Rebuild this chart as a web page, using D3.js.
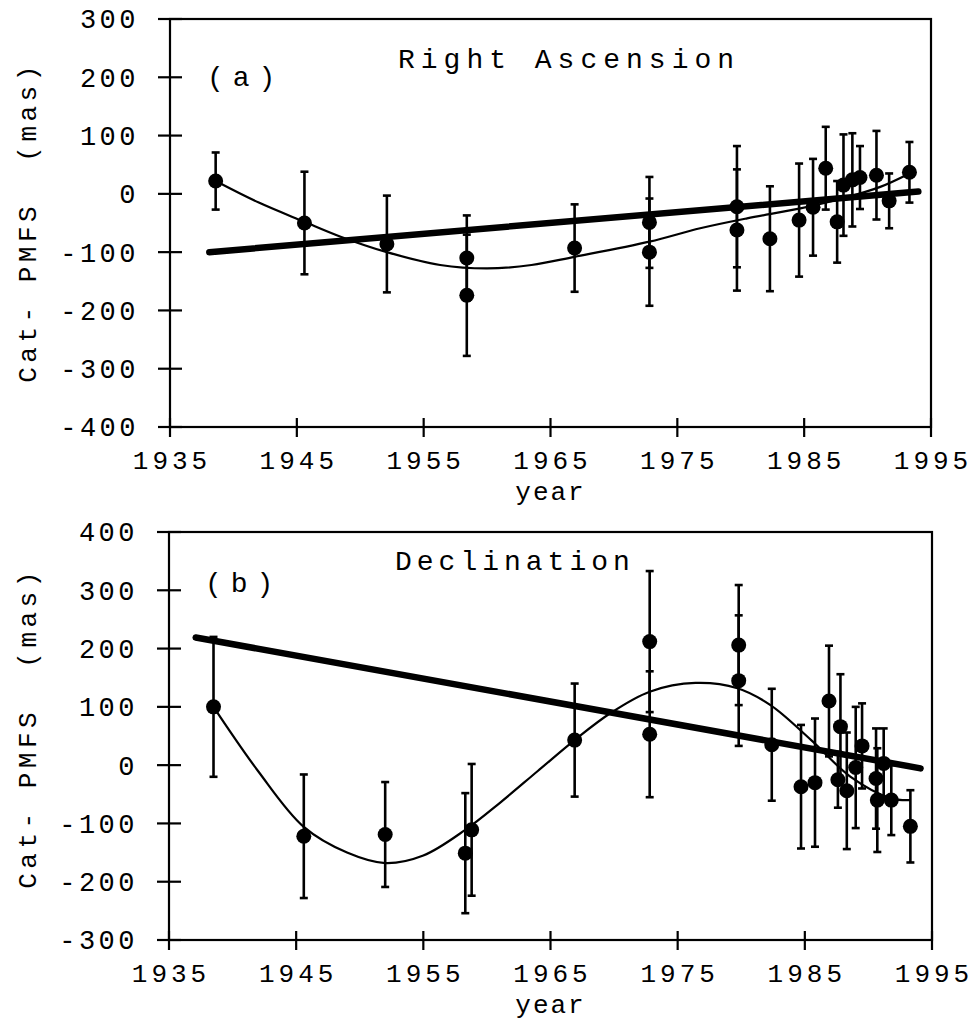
<!DOCTYPE html>
<html><head><meta charset="utf-8">
<script src="https://cdn.jsdelivr.net/npm/d3@7"></script>
<style>
body{margin:0;background:#fff;}
svg{display:block;}
text{font-family:"Liberation Mono","Courier New",monospace;fill:#000;}
</style></head>
<body><svg id="c" width="978" height="1021"></svg>
<script>
// ---- Panel (a): Right Ascension ----
const raYears  = [1938.6,1945.6,1952.1,1958.4,1958.4,1966.9,1972.8,1972.8,1979.7,1979.7,1982.3,1984.6,1985.7,1986.7,1987.6,1988.1,1988.8,1989.4,1990.7,1991.7,1993.3];
const raValues = [22,-50,-86,-110,-174,-93,-49,-100,-22,-62,-77,-45,-23,44,-48,15,24,28,32,-12,37];
const raErrors = [49,88,83,73,104,75,78,92,104,104,90,97,83,71,70,87,80,54,76,47,52];
const raFitYears  = [1938.6,1942,1945.6,1948.4,1952.1,1956.3,1960,1963.5,1966.9,1972.8,1976.8,1980.5,1984.7,1988,1991,1993.3];
const raFitValues = [22,-15,-48,-73,-100,-122,-128,-122,-108,-82,-59,-42,-25,-8,12,35];
const raTrendYears  = [1938.1,1994.0];
const raTrendValues = [-100,4];
const raYTicks = [-400,-300,-200,-100,0,100,200,300];

// ---- Panel (b): Declination ----
const decYears  = [1938.5,1945.6,1952.0,1958.3,1958.8,1966.9,1972.8,1972.8,1979.8,1979.8,1982.4,1984.7,1985.8,1986.9,1987.6,1987.8,1988.3,1989.0,1989.5,1990.6,1990.7,1991.2,1991.8,1993.3];
const decValues = [100,-122,-119,-151,-111,43,212,53,206,145,35,-37,-30,110,-25,66,-44,-4,33,-23,-60,3,-60,-105];
const decErrors = [120,106,90,103,113,97,121,108,103,112,96,106,110,95,48,90,100,104,73,86,89,60,60,62];
const decFitYears  = [1938.5,1942,1945.6,1949,1952,1955,1958.3,1961,1964,1966.9,1969.7,1972.8,1976.4,1979.7,1982.3,1985.5,1988.6,1991.8,1993.3];
const decFitValues = [100,-10,-106,-150,-168,-155,-111,-65,-10,43,89,126,141,132,103,43,-20,-57,-60];
const decTrendYears  = [1937.1,1994.1];
const decTrendValues = [219,-5.5];
const decYTicks = [-300,-200,-100,0,100,200,300,400];

const xTicks = [1935,1945,1955,1965,1975,1985,1995];

const svg = d3.select("#c");

function panel(o){
  const x = d3.scaleLinear().domain([1935,1995]).range([o.left,o.right]);
  const y = d3.scaleLinear().domain(o.yDomain).range([o.bottom,o.top]);
  const g = svg.append("g");
  // frame
  g.append("rect").attr("x",o.left).attr("y",o.top).attr("width",o.right-o.left).attr("height",o.bottom-o.top)
   .attr("fill","none").attr("stroke","#000").attr("stroke-width",2.2);
  // y ticks (crossing)
  g.selectAll(".yt").data(o.yTicks).join("line")
   .attr("x1",o.left-12).attr("x2",o.left+12).attr("y1",d=>y(d)).attr("y2",d=>y(d))
   .attr("stroke","#000").attr("stroke-width",2.2);
  g.selectAll(".yl").data(o.yTicks).join("text")
   .attr("x",o.left-31).attr("y",d=>y(d)).attr("dy","0.35em").attr("text-anchor","end")
   .attr("font-size",27).attr("letter-spacing",3.5).text(d=>d);
  // x ticks (crossing)
  g.selectAll(".xt").data(xTicks).join("line")
   .attr("x1",d=>x(d)).attr("x2",d=>x(d)).attr("y1",o.bottom-9).attr("y2",o.bottom+10)
   .attr("stroke","#000").attr("stroke-width",2.2);
  g.selectAll(".xl").data(xTicks).join("text")
   .attr("x",d=>x(d)+2).attr("y",o.bottom+42).attr("text-anchor","middle")
   .attr("font-size",26).attr("letter-spacing",4).text(d=>d);
  // axis titles
  g.append("text").attr("x",x(1965)).attr("y",o.bottom+73).attr("text-anchor","middle")
   .attr("font-size",26).attr("letter-spacing",2).text("year");
  g.append("text").attr("transform",`translate(36,${o.ylabelY}) rotate(-90)`).attr("text-anchor","middle")
   .attr("font-size",26).attr("letter-spacing",4.5).attr("xml:space","preserve").text("Cat- PMFS  (mas)");
  // labels
  g.append("text").attr("x",o.tagX).attr("y",o.tagY).attr("font-size",28).attr("letter-spacing",9).text(o.tag);
  g.append("text").attr("x",o.titleX).attr("y",o.titleY).attr("font-size",28).attr("letter-spacing",o.titleLS).text(o.title);

  // thick trend line
  const line = d3.line().x(d=>x(d[0])).y(d=>y(d[1]));
  g.append("path").datum(d3.zip(o.trendYears,o.trendValues)).attr("d",line)
   .attr("fill","none").attr("stroke","#000").attr("stroke-width",6.5).attr("stroke-linecap","round");
  // thin fitted curve
  const curve = d3.line().x(d=>x(d[0])).y(d=>y(d[1])).curve(d3.curveCatmullRom.alpha(0.5));
  g.append("path").datum(d3.zip(o.fitYears,o.fitValues)).attr("d",curve)
   .attr("fill","none").attr("stroke","#000").attr("stroke-width",2.2);
  // error bars
  const pts = o.years.map((yr,i)=>({yr,v:o.values[i],e:o.errors[i]}));
  const eb = g.append("g").attr("stroke","#000").attr("stroke-width",2.6);
  eb.selectAll(".v").data(pts).join("line")
   .attr("x1",d=>x(d.yr)).attr("x2",d=>x(d.yr)).attr("y1",d=>y(d.v-d.e)).attr("y2",d=>y(d.v+d.e));
  eb.selectAll(".ct").data(pts).join("line")
   .attr("x1",d=>x(d.yr)-4).attr("x2",d=>x(d.yr)+4).attr("y1",d=>y(d.v+d.e)).attr("y2",d=>y(d.v+d.e));
  eb.selectAll(".cb").data(pts).join("line")
   .attr("x1",d=>x(d.yr)-4).attr("x2",d=>x(d.yr)+4).attr("y1",d=>y(d.v-d.e)).attr("y2",d=>y(d.v-d.e));
  // markers
  g.selectAll(".pt").data(pts).join("circle")
   .attr("cx",d=>x(d.yr)).attr("cy",d=>y(d.v)).attr("r",7.5).attr("fill","#000");
}

panel({left:170,right:931,top:19,bottom:427,yDomain:[-400,300],yTicks:raYTicks,
  years:raYears,values:raValues,errors:raErrors,fitYears:raFitYears,fitValues:raFitValues,
  trendYears:raTrendYears,trendValues:raTrendValues,
  tag:"(a)",tagX:207,tagY:86,title:"Right Ascension",titleX:398,titleY:68,titleLS:6,ylabelY:222});

panel({left:169,right:932,top:532,bottom:940,yDomain:[-300,400],yTicks:decYTicks,
  years:decYears,values:decValues,errors:decErrors,fitYears:decFitYears,fitValues:decFitValues,
  trendYears:decTrendYears,trendValues:decTrendValues,
  tag:"(b)",tagX:205,tagY:592,title:"Declination",titleX:395,titleY:570,titleLS:5,ylabelY:728});
</script></body></html>
